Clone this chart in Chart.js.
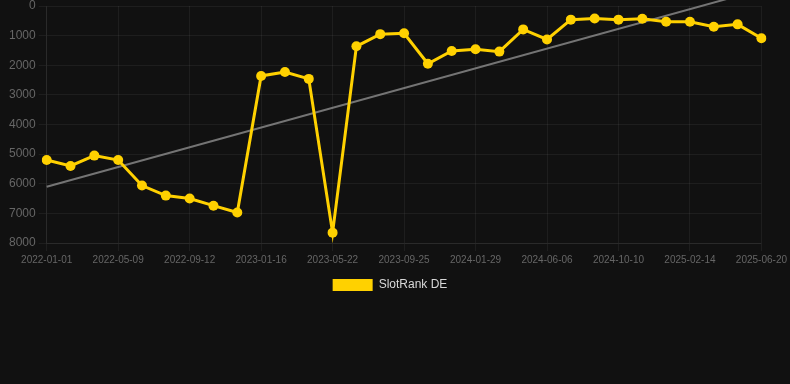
<!DOCTYPE html>
<html>
<head>
<meta charset="utf-8">
<script src="https://cdn.jsdelivr.net/npm/chart.js@4"></script>
<style>
  html, body { margin: 0; padding: 0; background: #111111; }
  #wrap { width: 790px; height: 384px; position: relative; }
</style>
</head>
<body>
<div id="wrap"><canvas id="c"></canvas></div>
<script>
const dateLabels = [
  '2022-01-01','2022-02-12','2022-03-27','2022-05-09','2022-06-20','2022-08-01',
  '2022-09-12','2022-10-24','2022-12-05','2023-01-16','2023-02-27','2023-04-10',
  '2023-05-22','2023-07-03','2023-08-14','2023-09-25','2023-11-06','2023-12-18',
  '2024-01-29','2024-03-12','2024-04-24','2024-06-06','2024-07-18','2024-08-29',
  '2024-10-10','2024-11-21','2025-01-03','2025-02-14','2025-03-28','2025-05-09',
  '2025-06-20'
];
const rankDE = [
  5200, 5400, 5050, 5200, 6060, 6400, 6500, 6740, 6970,
  2360, 2230, 2460, 7650, 1360, 950, 920, 1950, 1520, 1460, 1540,
  790, 1130, 460, 420, 460, 430, 530, 530, 700, 620, 1090
];
const trendEnds = [6100, -560];
const yTicks = [0, 1000, 2000, 3000, 4000, 5000, 6000, 7000, 8000];

const yellow = '#FFD100';
const gridColor = 'rgba(255,255,255,0.055)';

new Chart(document.getElementById('c'), {
  type: 'line',
  data: {
    labels: dateLabels,
    datasets: [
      {
        label: 'SlotRank DE',
        data: rankDE,
        borderColor: yellow,
        backgroundColor: yellow,
        borderWidth: 3,
        pointRadius: 5,
        pointHoverRadius: 5,
        pointBackgroundColor: yellow,
        pointBorderColor: yellow,
        pointBorderWidth: 0,
        tension: 0
      },
      {
        label: 'trend',
        data: [
          { x: dateLabels[0], y: trendEnds[0] },
          { x: dateLabels[dateLabels.length - 1], y: trendEnds[1] }
        ],
        borderColor: 'rgba(150,150,150,0.75)',
        backgroundColor: 'rgba(150,150,150,0.75)',
        borderWidth: 2,
        pointRadius: 0,
        tension: 0,
        clip: 6
      }
    ]
  },
  options: {
    responsive: true,
    maintainAspectRatio: false,
    animation: false,
    layout: { padding: { left: 6, right: 16, top: 0, bottom: 83 } },
    plugins: {
      tooltip: { enabled: false },
      legend: {
        position: 'bottom',
        labels: {
          color: '#d8d8d8',
          font: { size: 12 },
          boxWidth: 40,
          boxHeight: 12,
          generateLabels: (chart) =>
            Chart.defaults.plugins.legend.labels.generateLabels(chart)
              .filter(it => it.text === 'SlotRank DE')
              .map(it => Object.assign(it, { lineWidth: 0 }))
        }
      }
    },
    scales: {
      x: {
        type: 'category',
        offset: false,
        grid: { color: gridColor, tickColor: gridColor },
        border: { color: gridColor },
        ticks: {
          color: '#666666',
          font: { size: 10 },
          maxRotation: 0,
          autoSkip: true,
          maxTicksLimit: 11
        }
      },
      y: {
        reverse: true,
        min: yTicks[0],
        max: yTicks[yTicks.length - 1],
        grid: { color: gridColor, tickColor: gridColor },
        border: { color: gridColor },
        afterBuildTicks: (axis) => { axis.ticks = yTicks.map(v => ({ value: v })); },
        ticks: {
          color: '#666666',
          font: { size: 12, lineHeight: 0.5 },
          callback: (v) => String(v)
        }
      }
    }
  }
});
</script>
</body>
</html>
